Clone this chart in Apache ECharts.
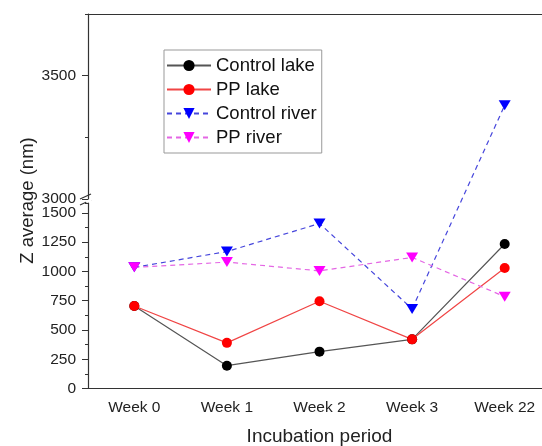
<!DOCTYPE html>
<html>
<head>
    <meta charset="UTF-8">
    <title>Z average</title>
    <script src="https://cdn.jsdelivr.net/npm/echarts@6/dist/echarts.min.js"></script>
    <style>
        html, body { margin: 0; padding: 0; background: #fff; }
        #main { width: 542px; height: 446px; }
    </style>
</head>
<body>
<div id="main"></div>
<script>
    // categories
    var weeks = ['Week 0', 'Week 1', 'Week 2', 'Week 3', 'Week 22'];
    // series values (nm)
    var controlLake = [705, 195, 315, 420, 1235];
    var ppLake = [705, 390, 745, 420, 1030];
    var controlRiver = [1035, 1170, 1410, 680, 3380];
    var ppRiver = [1035, 1080, 1005, 1120, 785];
    // axis ranges of the two parts of the broken axis
    var lowRange = [0, 1585];
    var highRange = [3000, 3750];

    var font = 'Liberation Sans, Arial, sans-serif';
    var axisColor = '#333';
    var tickFont = 15.5;

    function lowPart(arr) {
        return arr.map(function (v) { return v > lowRange[1] ? '-' : v; });
    }
    function highPart(arr) {
        return arr.map(function (v) { return v < highRange[0] ? '-' : v; });
    }
    // segments that jump across the break: [xFrom, yFrom, xTo, yTo]
    function crossing(arr) {
        var out = [];
        for (var i = 0; i < arr.length - 1; i++) {
            var a = arr[i] <= lowRange[1], b = arr[i + 1] <= lowRange[1];
            if (a && !b) out.push([i, arr[i], i + 1, arr[i + 1]]);
        }
        return out;
    }
    function plain(v) { return String(v); }

    var myChart = echarts.init(document.getElementById('main'));

    function lineSeries(name, data, lineColor, dotColor, dashed, symbol) {
        return {
            name: name,
            type: 'line',
            xAxisIndex: 0,
            yAxisIndex: 0,
            data: lowPart(data),
            symbol: symbol,
            symbolSize: symbol === 'circle' ? 10 : [12, 10],
            symbolRotate: symbol === 'circle' ? 0 : 180,
            showAllSymbol: true,
            connectNulls: false,
            lineStyle: { color: lineColor, width: 1.2, type: dashed ? [5, 4] : 'solid' },
            itemStyle: { color: dotColor, borderWidth: 0 },
            emphasis: { disabled: true },
            z: 3
        };
    }

    var option = {
        backgroundColor: '#fff',
        animation: false,
        grid: [
            { left: 88, right: -9, top: 203, bottom: 57.5, outerBoundsMode: 'none' },
            { left: 88, right: -9, top: 14, bottom: 247, outerBoundsMode: 'none' }
        ],
        legend: {
            data: ['Control lake', 'PP lake', 'Control river', 'PP river'],
            orient: 'vertical',
            left: 164,
            top: 50,
            padding: [6, 5, 6, 2],
            itemWidth: 44,
            itemHeight: 14,
            itemGap: 5,
            borderColor: '#999',
            borderWidth: 1,
            textStyle: { fontFamily: font, fontSize: 18.5, lineHeight: 19, color: '#111' }
        },
        xAxis: [
            {
                type: 'category', gridIndex: 0, data: weeks, boundaryGap: true, position: 'bottom',
                axisLine: { lineStyle: { color: axisColor, width: 1.2 } },
                axisTick: { alignWithLabel: true, length: 6, lineStyle: { color: axisColor } },
                axisLabel: { fontFamily: font, fontSize: tickFont, color: '#222', margin: 11 },
                name: 'Incubation period', nameLocation: 'middle', nameGap: 39,
                nameTextStyle: { fontFamily: font, fontSize: 19, color: '#222' },
                splitLine: { show: false }
            },
            {
                type: 'category', gridIndex: 0, data: weeks, boundaryGap: true, position: 'bottom',
                axisLine: { show: false },
                axisTick: { length: 3, lineStyle: { color: axisColor } },
                axisLabel: { show: false },
                splitLine: { show: false }
            },
            {
                type: 'category', gridIndex: 1, data: weeks, boundaryGap: true, position: 'top',
                axisLine: { lineStyle: { color: axisColor, width: 1.2 } },
                axisTick: { show: false },
                axisLabel: { show: false },
                splitLine: { show: false }
            }
        ],
        yAxis: [
            {
                type: 'value', gridIndex: 0, position: 'left', min: lowRange[0], max: lowRange[1], interval: 250,
                axisLine: { show: true, lineStyle: { color: axisColor, width: 1.2 } },
                axisTick: { show: true, length: 6, lineStyle: { color: axisColor } },
                axisLabel: { fontFamily: font, fontSize: tickFont, color: '#222', margin: 12, showMaxLabel: false, formatter: plain },
                splitLine: { show: false }
            },
            {
                type: 'value', gridIndex: 0, position: 'left', min: lowRange[0], max: lowRange[1], interval: 125,
                axisLine: { show: false },
                axisTick: { show: true, length: 3, lineStyle: { color: axisColor } },
                axisLabel: { show: false },
                splitLine: { show: false }
            },
            {
                type: 'value', gridIndex: 1, position: 'left', min: highRange[0], max: highRange[1], interval: 500,
                axisLine: { show: true, lineStyle: { color: axisColor, width: 1.2 } },
                axisTick: { show: true, length: 6, lineStyle: { color: axisColor } },
                axisLabel: { fontFamily: font, fontSize: tickFont, color: '#222', margin: 12, showMaxLabel: false, formatter: plain },
                splitLine: { show: false }
            },
            {
                type: 'value', gridIndex: 1, position: 'left', min: highRange[0], max: highRange[1], interval: 250,
                axisLine: { show: false },
                axisTick: { show: true, length: 3, lineStyle: { color: axisColor } },
                axisLabel: { show: false },
                splitLine: { show: false }
            }
        ],
        graphic: [
            {
                type: 'text', x: 28, y: 200.5, rotation: Math.PI / 2,
                style: {
                    text: 'Z average (nm)', fontFamily: font, fontSize: 18.5, fill: '#222',
                    align: 'center', verticalAlign: 'middle'
                }
            },
            // axis break marks
            { type: 'line', shape: { x1: 80, y1: 199, x2: 91, y2: 194 }, style: { stroke: axisColor, lineWidth: 1.2 } },
            { type: 'line', shape: { x1: 80, y1: 205, x2: 91, y2: 200 }, style: { stroke: axisColor, lineWidth: 1.2 } },
            { type: 'rect', shape: { x: 86, y: 199, width: 5, height: 3.5 }, style: { fill: '#fff' }, z: 0 }
        ],
        series: [
            lineSeries('Control lake', controlLake, '#555', '#000', false, 'circle'),
            lineSeries('PP lake', ppLake, '#f04545', '#ff0000', false, 'circle'),
            lineSeries('Control river', controlRiver, '#4646dc', '#0000ff', true, 'triangle'),
            lineSeries('PP river', ppRiver, '#e466e4', '#ff00ff', true, 'triangle'),
            {
                name: 'Control river (upper)',
                type: 'line',
                xAxisIndex: 2,
                yAxisIndex: 2,
                data: highPart(controlRiver),
                symbol: 'triangle',
                symbolSize: [12, 10],
                symbolRotate: 180,
                lineStyle: { color: '#4646dc', width: 1.2, type: [5, 4] },
                itemStyle: { color: '#0000ff' },
                emphasis: { disabled: true },
                z: 3
            },
            {
                // dashed segment jumping from the lower to the upper part
                name: 'Control river (break)',
                type: 'custom',
                xAxisIndex: 2,
                yAxisIndex: 2,
                clip: false,
                data: crossing(controlRiver),
                renderItem: function (params, api) {
                    var p1 = myChart.convertToPixel({ xAxisIndex: 0, yAxisIndex: 0 }, [api.value(0), api.value(1)]);
                    var p2 = api.coord([api.value(2), api.value(3)]);
                    return {
                        type: 'line',
                        shape: { x1: p1[0], y1: p1[1], x2: p2[0], y2: p2[1] },
                        style: { stroke: '#4646dc', lineWidth: 1.2, lineDash: [5, 4] }
                    };
                },
                z: 2
            }
        ]
    };

    myChart.setOption(option);
</script>
</body>
</html>
